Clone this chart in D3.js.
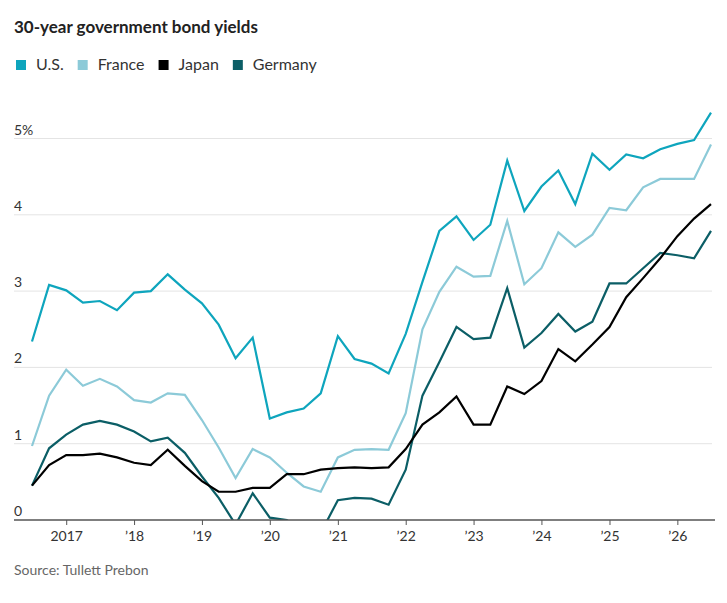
<!DOCTYPE html>
<html>
<head>
<meta charset="utf-8">
<script src="https://cdn.jsdelivr.net/npm/d3@7"></script>
<style>
  html, body { margin: 0; padding: 0; background: #fff; }
  svg { display: block; font-family: Lato, "Open Sans", sans-serif; }
</style>
</head>
<body>
<svg id="chart" width="727" height="603"></svg>
<script>
const quarters = [
  "2016-07","2016-10",
  "2017-01","2017-04","2017-07","2017-10",
  "2018-01","2018-04","2018-07","2018-10",
  "2019-01","2019-04","2019-07","2019-10",
  "2020-01","2020-04","2020-07","2020-10",
  "2021-01","2021-04","2021-07","2021-10",
  "2022-01","2022-04","2022-07","2022-10",
  "2023-01","2023-04","2023-07","2023-10",
  "2024-01","2024-04","2024-07","2024-10",
  "2025-01","2025-04","2025-07","2025-10",
  "2026-01","2026-04","2026-07"
];
const usYields = [2.34,3.08,
  3.01,2.85,2.87,2.75,
  2.98,3.00,3.22,3.02,
  2.84,2.56,2.12,2.39,
  1.33,1.41,1.46,1.66,
  2.41,2.11,2.05,1.92,
  2.44,3.12,3.79,3.98,
  3.67,3.87,4.71,4.05,
  4.37,4.58,4.14,4.80,
  4.59,4.79,4.74,4.86,
  4.93,4.98,5.34];
const franceYields = [0.97,1.63,
  1.97,1.76,1.85,1.75,
  1.57,1.54,1.66,1.64,
  1.31,0.95,0.55,0.93,
  0.82,0.62,0.44,0.37,
  0.82,0.92,0.93,0.92,
  1.40,2.50,2.99,3.32,
  3.19,3.20,3.92,3.09,
  3.30,3.77,3.58,3.74,
  4.09,4.06,4.36,4.47,
  4.47,4.47,4.92];
const japanYields = [0.45,0.72,
  0.85,0.85,0.87,0.82,
  0.75,0.72,0.92,0.71,
  0.51,0.37,0.37,0.42,
  0.42,0.60,0.60,0.66,
  0.68,0.69,0.68,0.69,
  0.93,1.25,1.41,1.62,
  1.25,1.25,1.75,1.65,
  1.82,2.24,2.08,2.30,
  2.53,2.92,3.17,3.43,
  3.72,3.95,4.14];
const germanyYields = [0.45,0.94,
  1.12,1.25,1.30,1.25,
  1.16,1.03,1.08,0.88,
  0.57,0.29,-0.06,0.35,
  0.03,0.00,-0.15,-0.17,
  0.26,0.29,0.28,0.20,
  0.66,1.63,2.07,2.53,
  2.37,2.39,3.04,2.26,
  2.45,2.70,2.47,2.60,
  3.10,3.10,3.30,3.50,
  3.47,3.43,3.79];
const seriesNames = ["U.S.","France","Japan","Germany"];
const seriesColors = ["#0ea5bd","#8ccad8","#000000","#0b5e66"];
const yTicks = [0,1,2,3,4,5];
const xTickYears = [2017,2018,2019,2020,2021,2022,2023,2024,2025,2026];
const titleText = "30-year government bond yields";
const sourceText = "Source: Tullett Prebon";

const seriesValues = [usYields, franceYields, japanYields, germanyYields];
const parse = d3.timeParse("%Y-%m");
const dates = quarters.map(parse);

const svg = d3.select("#chart");
const left = 14, right = 712, plotLeft = 32, plotRight = 711;
const x = d3.scaleTime().domain([dates[0], dates[dates.length-1]]).range([plotLeft, plotRight]);
const y = d3.scaleLinear().domain([0,5]).range([520, 138.5]);

// title
svg.append("text").attr("x", left).attr("y", 33)
  .attr("font-size", 17).attr("font-weight", 700).attr("fill", "#222")
  .text(titleText);

// legend
const legend = svg.append("g");
let lx = 16;
seriesNames.forEach((name, i) => {
  legend.append("rect").attr("x", lx).attr("y", 60).attr("width", 10).attr("height", 10)
    .attr("fill", seriesColors[i]);
  const t = legend.append("text").attr("x", lx + 20).attr("y", 70)
    .attr("font-size", 16).attr("fill", "#333").text(name);
  lx += 20 + t.node().getComputedTextLength() + 14;
});

// gridlines + y labels
const grid = svg.append("g");
yTicks.forEach(v => {
  if (v > 0) {
    grid.append("line").attr("x1", left).attr("x2", right)
      .attr("y1", y(v)).attr("y2", y(v))
      .attr("stroke", "#e4e4e4").attr("stroke-width", 1);
  }
  grid.append("text").attr("x", left).attr("y", y(v) - 4)
    .attr("font-size", 14).attr("fill", "#333")
    .text(v === 5 ? v + "%" : v);
});

// clip below zero
svg.append("defs").append("clipPath").attr("id", "clip")
  .append("rect").attr("x", 0).attr("y", 0).attr("width", 727).attr("height", y(0));

const line = d3.line().x((d, i) => x(dates[i])).y(d => y(d));
const lines = svg.append("g").attr("clip-path", "url(#clip)");
// draw order: U.S., France, Germany, Japan
[0,1,3,2].forEach(i => {
  lines.append("path").datum(seriesValues[i])
    .attr("d", line)
    .attr("fill", "none")
    .attr("stroke", seriesColors[i])
    .attr("stroke-width", 2.2)
    .attr("stroke-linejoin", "miter");
});

// x axis
const xAxis = d3.axisBottom(x)
  .tickValues(xTickYears.map(yr => new Date(yr, 0, 1)))
  .tickSize(5)
  .tickFormat(d => d.getFullYear() === 2017 ? "2017" : "\u2019" + String(d.getFullYear()).slice(2));
const ax = svg.append("g").attr("transform", `translate(0,${y(0)})`).call(xAxis);
ax.select(".domain").remove();
ax.append("line").attr("x1", left).attr("x2", 715).attr("y1", 0).attr("y2", 0)
  .attr("stroke", "#555").attr("stroke-width", 1.5);
ax.selectAll(".tick line").attr("stroke", "#555");
ax.selectAll(".tick text").attr("font-size", 14).attr("fill", "#333")
  .attr("font-family", "Lato, sans-serif").attr("dy", "0.9em");

// source
svg.append("text").attr("x", left).attr("y", 575)
  .attr("font-size", 14).attr("fill", "#666").text(sourceText);
</script>
</body>
</html>
